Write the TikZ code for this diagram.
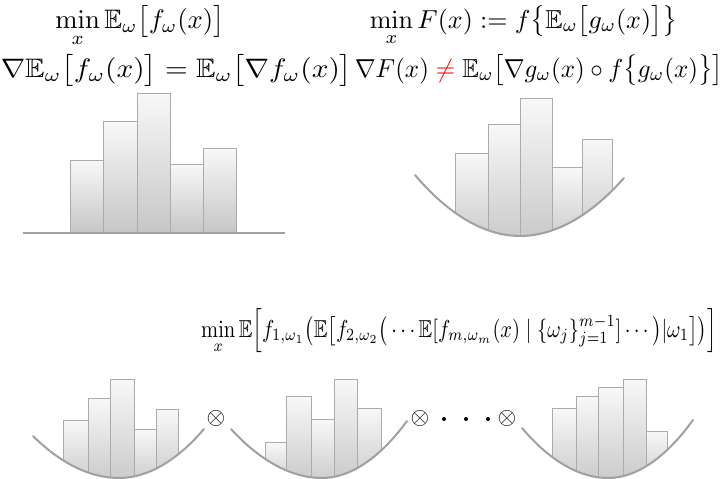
\documentclass[tikz,border=0pt]{standalone}
\usepackage{amsmath,amssymb}
\definecolor{bartop}{HTML}{F8F8F8}
\definecolor{barbot}{HTML}{C6C6C6}
\definecolor{barline}{HTML}{ABABAB}
\definecolor{curvecol}{HTML}{A0A0A0}
\tikzset{
  bar/.style={draw=barline, line width=0.9pt, top color=bartop, bottom color=barbot},
  curve/.style={draw=curvecol, line width=2pt, line cap=round},
  eq/.style={anchor=base, inner sep=0pt},
  opsym/.style={inner sep=0pt, scale=2.4},
  bigdot/.style={circle, fill=black, inner sep=0pt, minimum size=4pt},
}
\newcommand\histbars[2]{%
  \foreach \a/\b/\t in {#1} {\path[bar] (\a,#2) rectangle (\b,\t);}%
}
\begin{document}
\begin{tikzpicture}[x=1pt,y=-1pt]
\useasboundingbox (0,0) rectangle (724,479);

% ---- formulas ----
\node[eq, scale=2.67] (tl1) at (140,28) {$\displaystyle\min_x \mathbb{E}_\omega\big[f_\omega(x)\big]$};
\node[eq, xscale=2.93, yscale=2.67] (tl2) at (176.5,77) {$\nabla\mathbb{E}_\omega\big[f_\omega(x)\big] = \mathbb{E}_\omega\big[\nabla f_\omega(x)\big]$};
\node[eq, scale=2.6] (tr1) at (523.5,28) {$\displaystyle\min_x F(x) := f\big\{\mathbb{E}_\omega\big[g_\omega(x)\big]\big\}$};
\node[eq, xscale=2.5, yscale=2.6] (tr2) at (539,77) {$\nabla F(x) \mathrel{\color{red}\neq} \mathbb{E}_\omega\big[\nabla g_\omega(x)\circ f\big\{g_\omega(x)\big\}\big]$};
\node[eq, xscale=2.05, yscale=2.45] (bt) at (459,337) {$\displaystyle\min_x \mathbb{E}\Big[f_{1,\omega_1}\big(\mathbb{E}\big[f_{2,\omega_2}\big(\cdots\mathbb{E}[f_{m,\omega_m}(x)\mid\{\omega_j\}_{j=1}^{m-1}]\cdots\big)|\omega_1\big]\big)\Big]$};

% ---- top left histogram ----
\histbars{70/103/160, 103/137/121, 137/170/93, 170/203/164, 203/236/148}{233}
\draw[curve, line cap=butt] (23,233) -- (285,233);

% ---- top right histogram on parabola ----
\begin{scope}
  \clip (415,175) parabola bend (520,236) (624,178) -- (624,80) -- (415,80) -- cycle;
  \histbars{455/488/153, 488/520/124, 520/552/98, 552/582/167, 582/612/139}{250}
\end{scope}
\draw[curve] (415,175) parabola bend (520,236) (624,178);

% ---- bottom panel 1 ----
\begin{scope}
  \clip (33,436) parabola bend (119,478) (204,429) -- (204,360) -- (33,360) -- cycle;
  \histbars{63/88/420, 88/110/398, 110/134/379, 134/156/429, 156/178/409}{490}
\end{scope}
\draw[curve] (33,436) parabola bend (119,478) (204,429);

% ---- bottom panel 2 ----
\begin{scope}
  \clip (231,429) parabola bend (322,478) (407,421) -- (407,360) -- (231,360) -- cycle;
  \histbars{265/286/442, 286/311/396, 311/334/419, 334/357/379, 357/381/408}{490}
\end{scope}
\draw[curve] (231,429) parabola bend (322,478) (407,421);

% ---- bottom panel 3 ----
\begin{scope}
  \clip (522,428) parabola bend (608,478) (693,420) -- (693,360) -- (522,360) -- cycle;
  \histbars{552/576/408, 576/598/396, 598/623/387, 623/646/379, 646/667/431}{490}
\end{scope}
\draw[curve] (522,428) parabola bend (608,478) (693,420);

% ---- operators ----
\node[opsym] (o1) at (216,418) {$\otimes$};
\node[opsym] (o2) at (420,418) {$\otimes$};
\node[opsym] (o3) at (507,418) {$\otimes$};
\node[bigdot] (d1) at (444,419) {};
\node[bigdot] (d2) at (466,419) {};
\node[bigdot] (d3) at (488,419) {};
\end{tikzpicture}
\end{document}
